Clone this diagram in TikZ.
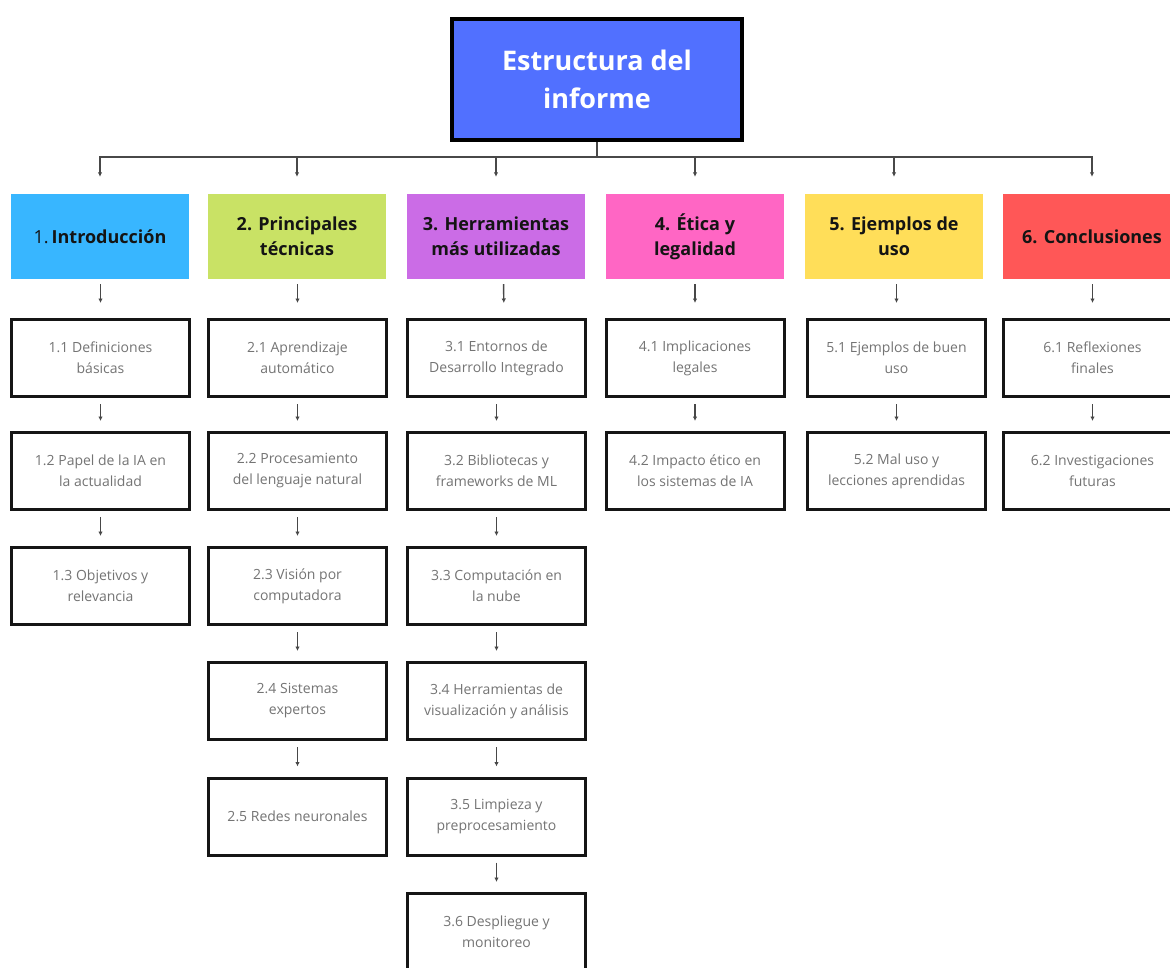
\documentclass[tikz,border=0pt]{standalone}
\usepackage{fontspec}
\setmainfont{Open Sans}
\usetikzlibrary{arrows.meta}
\definecolor{titleblue}{HTML}{5170FF}
\definecolor{hdrA}{HTML}{38B6FF}
\definecolor{hdrB}{HTML}{C9E265}
\definecolor{hdrC}{HTML}{CB6CE6}
\definecolor{hdrD}{HTML}{FF66C4}
\definecolor{hdrE}{HTML}{FFDE59}
\definecolor{hdrF}{HTML}{FF5757}
\definecolor{linegray}{HTML}{484848}
\definecolor{boxedge}{HTML}{151515}
\definecolor{subtext}{HTML}{747474}
\begin{document}
\begin{tikzpicture}[x=1pt,y=-1pt,
  conn/.style={draw=linegray, line width=1.4pt},
  arr/.style={conn, -{Latex[length=4.5pt,width=4.5pt]}},
  titlebox/.style={draw=black, line width=3.5pt, fill=titleblue,
    minimum width=290pt, minimum height=121pt, inner sep=0pt,
    align=center, text=white, font=\fontsize{27}{38}\selectfont\bfseries},
  hdr/.style={fill=#1, minimum width=178pt, minimum height=85pt,
    inner sep=0pt, align=center, text=black!92,
    font=\fontsize{18}{25}\selectfont\bfseries},
  subbox/.style={draw=boxedge, line width=3pt, fill=white,
    minimum width=178pt, minimum height=77pt, inner sep=0pt,
    align=center, text=subtext, font=\fontsize{14}{21}\selectfont},
]
\useasboundingbox (0,0) rectangle (1170,967);
\fill[white] (0,0) rectangle (1170,967);
\clip (0,0) rectangle (1170,967);

% root
\node[titlebox] (root) at (597,79.5) {Estructura del\\informe};

% section headers
\node[hdr=hdrA] (h1) at (100,236.5) {{\mdseries 1.}\,Introducción};
\node[hdr=hdrB] (h2) at (297,236.5) {2. Principales\\técnicas};
\node[hdr=hdrC] (h3) at (496,236.5) {3. Herramientas\\más utilizadas};
\node[hdr=hdrD] (h4) at (695,236.5) {4. Ética y\\legalidad};
\node[hdr=hdrE] (h5) at (894,236.5) {5. Ejemplos de\\uso};
\node[hdr=hdrF] (h6) at (1092,236.5) {6. Conclusiones};

% column 1
\node[subbox] (b11) at (100.5,358) {1.1 Definiciones\\básicas};
\node[subbox] (b12) at (100.5,471) {1.2 Papel de la IA en\\la actualidad};
\node[subbox] (b13) at (100.5,586) {1.3 Objetivos y\\relevancia};
% column 2
\node[subbox] (b21) at (297.5,358) {2.1 Aprendizaje\\automático};
\node[subbox] (b22) at (297.5,471) {2.2 Procesamiento\\del lenguaje natural};
\node[subbox] (b23) at (297.5,586) {2.3 Visión por\\computadora};
\node[subbox] (b24) at (297.5,701) {2.4 Sistemas\\expertos};
\node[subbox] (b25) at (297.5,816.5) {2.5 Redes neuronales};
% column 3
\node[subbox] (b31) at (496.5,358) {3.1 Entornos de\\Desarrollo Integrado};
\node[subbox] (b32) at (496.5,471) {3.2 Bibliotecas y\\frameworks de ML};
\node[subbox] (b33) at (496.5,586) {3.3 Computación en\\la nube};
\node[subbox] (b34) at (496.5,701) {3.4 Herramientas de\\visualización y análisis};
\node[subbox] (b35) at (496.5,816.5) {3.5 Limpieza y\\preprocesamiento};
\node[subbox] (b36) at (496.5,932) {3.6 Despliegue y\\monitoreo};
% column 4
\node[subbox] (b41) at (695,358) {4.1 Implicaciones\\legales};
\node[subbox] (b42) at (695,471) {4.2 Impacto ético en\\los sistemas de IA};
% column 5
\node[subbox] (b51) at (896.5,358) {5.1 Ejemplos de buen\\uso};
\node[subbox] (b52) at (896.5,471) {5.2 Mal uso y\\lecciones aprendidas};
% column 6
\node[subbox] (b61) at (1092.5,358) {6.1 Reflexiones\\finales};
\node[subbox] (b62) at (1092.5,471) {6.2 Investigaciones\\futuras};

% bus from the root to every header
\coordinate (bus) at (597,157);
\draw[conn] (root.south) -- (bus);
\draw[conn, line cap=rect] (bus -| h1.north) -- (bus -| h6.north);
\foreach \h in {h1,h2,h3,h4,h5,h6}
  \draw[arr, shorten >=17pt] (bus -| \h.north) -- (\h.north);

% header to first item
\foreach \h/\b in {h1/b11,h2/b21,h4/b41,h5/b51,h6/b61}
  \draw[arr, shorten <=5pt, shorten >=15pt] (\h.south -| \b.north) -- (\b.north);
\draw[arr, shorten <=5pt, shorten >=15pt]
  ([xshift=7.5pt]h3.south) -- ([xshift=7.5pt]b31.north);

% item to item
\foreach \a/\b in {b11/b12,b12/b13,b21/b22,b22/b23,b23/b24,b24/b25,
                   b31/b32,b32/b33,b33/b34,b34/b35,b35/b36,
                   b41/b42,b51/b52,b61/b62}
  \draw[arr, shorten <=6pt, shorten >=10pt] (\a.south) -- (\b.north);
\end{tikzpicture}
\end{document}
